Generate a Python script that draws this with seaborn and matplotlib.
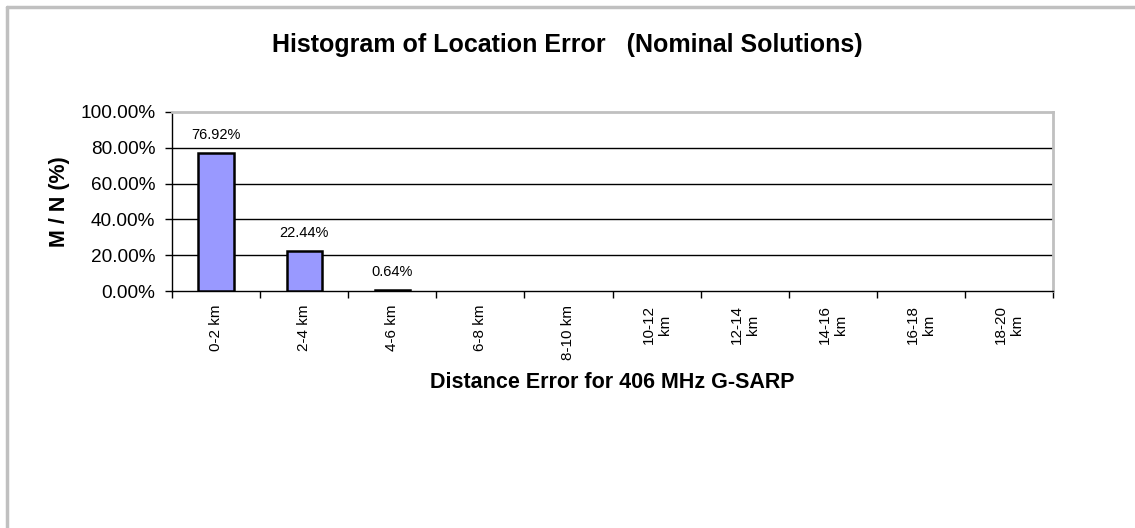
import matplotlib
matplotlib.use('Agg')
import matplotlib.pyplot as plt
import seaborn as sns
import pandas as pd
from matplotlib.lines import Line2D
from matplotlib.ticker import FuncFormatter

categories = ['0-2 km', '2-4 km', '4-6 km', '6-8 km', '8-10 km',
              '10-12\nkm', '12-14\nkm', '14-16\nkm', '16-18\nkm', '18-20\nkm']
percent = [76.92, 22.44, 0.64, 0, 0, 0, 0, 0, 0, 0]
y_ticks = [0, 20, 40, 60, 80, 100]

df = pd.DataFrame({'range': categories, 'pct': percent})

sns.set_style('white')
plt.rcParams['font.family'] = ['Liberation Sans', 'DejaVu Sans']
plt.rcParams['text.color'] = 'black'
plt.rcParams['axes.labelcolor'] = 'black'
plt.rcParams['xtick.color'] = 'black'
plt.rcParams['ytick.color'] = 'black'

fig = plt.figure(figsize=(11.35, 5.28), dpi=100)
ax = fig.add_axes([172 / 1135, 1 - 291 / 528, (1053 - 172) / 1135, (291 - 112) / 528])

sns.barplot(data=df, x='range', y='pct', color='#9999FF', edgecolor='black',
            linewidth=1.8, width=0.4, saturation=1, ax=ax, zorder=3)

# empty bins draw nothing
for bar, v in zip(ax.patches, percent):
    if v == 0:
        bar.set_visible(False)

# value labels on the non-empty bars
for i, v in enumerate(percent):
    if v > 0:
        ax.annotate(f'{v:.2f}%', (i, v), xytext=(0, 8), textcoords='offset points',
                    ha='center', va='bottom', fontsize=10.5)

ax.set_ylim(0, 100)
ax.set_xlim(-0.5, len(categories) - 0.5)
ax.set_yticks(y_ticks)
ax.yaxis.set_major_formatter(FuncFormatter(lambda v, p: f'{v:.2f}%'))
ax.tick_params(axis='y', labelsize=13.7, length=5, width=1, direction='out', left=True, pad=7)
for y in y_ticks[1:-1]:
    ax.axhline(y, color='black', linewidth=1, zorder=1)

# Excel-style ticks: marks between categories, labels at centers
ax.set_xticks([i - 0.5 for i in range(len(categories) + 1)])
ax.set_xticklabels([])
ax.set_xticks(range(len(categories)), minor=True)
ax.set_xticklabels(categories, minor=True, rotation=90, fontsize=11,
                   va='top', ha='center', multialignment='center')
ax.tick_params(axis='x', which='major', length=5, width=1, direction='out', bottom=True)
ax.tick_params(axis='x', which='minor', length=0, pad=10)

for side in ['top', 'right']:
    ax.spines[side].set_color('#c0c0c0')
    ax.spines[side].set_linewidth(2)
for side in ['left', 'bottom']:
    ax.spines[side].set_color('black')
    ax.spines[side].set_linewidth(1)

ax.set_xlabel('Distance Error for 406 MHz G-SARP', fontsize=15.5, fontweight='bold')
ax.xaxis.set_label_coords(0.5, -0.455)
ax.set_ylabel('M / N (%)', fontsize=15.5, fontweight='bold')
ax.yaxis.set_label_coords(-0.116, 0.5)

fig.text(0.5, 1 - 45 / 528, 'Histogram of Location Error   (Nominal Solutions)',
         ha='center', va='center', fontsize=18, fontweight='bold')

# chart area border (left and top visible)
fig.add_artist(Line2D([7 / 1135, 7 / 1135], [0, 1 - 7 / 528], color='#c0c0c0', linewidth=2.5))
fig.add_artist(Line2D([7 / 1135, 1], [1 - 7 / 528, 1 - 7 / 528], color='#c0c0c0', linewidth=2.5))

fig.savefig('out.png', dpi=100)
